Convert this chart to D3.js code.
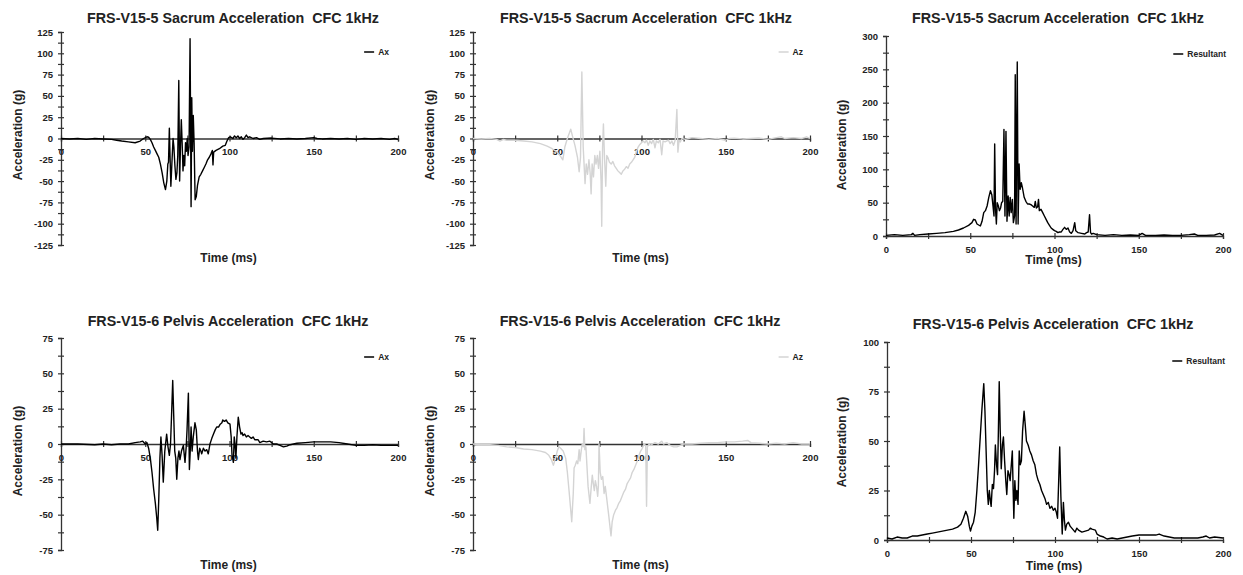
<!DOCTYPE html>
<html lang="en">
<head>
  <meta charset="UTF-8">
  <title>FRS-V15 Sacrum / Pelvis Acceleration</title>
  <script src="https://d3js.org/d3.v7.min.js"></script>
  <style>
    body { margin: 0; background: #fff; }
    text { font-family: "Liberation Sans", Arial, sans-serif; font-weight: bold; fill: #222; }
  </style>
</head>
<body>
<div id="chart"></div>
<script>
// ---- data: [time (ms), acceleration (g)] ----
const sacrumAx = [[0,0],[5,-0.5],[10,0],[15,-1],[20,0],[25,-0.5],[30,-1],[33,-2],[36,-3],[40,-4],[44,-5],[47,-3],[49,0],[51,2],[52,1.5],[53,-1],[54,-5],[55,-10],[56,-14],[57,-18],[58,-22],[59,-30],[60,-40],[61,-52],[62,-60],[62.8,-50],[63.4,-30],[63.8,-28],[64.3,12],[64.7,-20],[65.2,-56],[65.8,-30],[66.5,0],[67,-10],[67.6,-32],[68.2,-48],[68.8,-40],[69.3,-20],[69.9,68],[70.4,-50],[70.9,-10],[71.4,22],[71.9,-5],[72.4,-38],[72.9,-20],[73.4,-32],[73.9,-5],[74.4,-15],[74.9,0],[75.4,-20],[76,-10],[76.6,117],[77.2,-80],[77.6,48],[78,-15],[78.5,27],[79,-5],[79.6,-72],[80.3,-68],[81,-55],[82,-45],[83,-42],[84,-38],[85,-34],[86,-30],[87,-25],[88,-22],[89,-18],[89.8,-14],[90.2,-31],[90.6,-16],[92,-14],[94,-12],[96,-9],[97.5,-8],[98.5,-3],[99.5,1],[100.5,2],[102,0],[103,3],[104,1],[105,3],[106,0],[107,2],[108,-1],[109,1],[110,4],[111,1],[112,2],[114,0],[116,1],[118,-1],[120,0],[125,0.5],[130,-0.5],[135,0],[140,-0.5],[145,0],[150,1],[152,0],[155,-0.5],[160,0],[165,-0.5],[170,0],[175,-1],[180,0],[185,-0.5],[190,0],[195,-1],[198,0],[200,-1]];

const sacrumAz = [[0,0],[5,-0.5],[10,0],[14,-1],[16,-3],[18,-1],[20,-2],[25,-2],[30,-3],[35,-4],[40,-6],[44,-9],[47,-12],[50,-16],[52,-21],[53.3,-25],[54.5,-10],[56,0],[58,11],[59,3],[60.5,-8],[62,-22],[63,-39],[63.8,-22],[64.6,78],[65.4,-10],[66.5,-53],[67.2,-30],[68,-42],[68.8,-25],[69.5,-40],[70.1,-65],[70.7,-30],[71.5,-45],[72.3,-20],[73,-30],[73.8,-20],[74.5,-35],[75.3,-15],[76,-50],[76.4,-103],[76.9,-10],[77.4,17],[78,-20],[78.8,-56],[79.4,-20],[80,-22],[81,-28],[82,-30],[83,-27],[84,-32],[85,-35],[86,-38],[87,-40],[88,-42],[89,-38],[90,-36],[91,-33],[92,-35],[93,-30],[94,-28],[95,-25],[96,-22],[97,-15],[98,-10],[99,-7],[100,-5],[101,-3],[102,-5],[103,-2],[104,-8],[105,-3],[106,-6],[107,-1],[108,-11],[108.8,-3],[110,-5],[111,-1],[112,-19],[112.8,-3],[114,-4],[116,-2],[117,-6],[118,-3],[119,-8],[120,-2],[121,34],[121.6,-16],[122.3,-2],[123,-4],[124,0],[126,-1],[128,0],[130,1],[135,0],[140,-1],[145,0],[150,-2],[152,0],[155,0.5],[160,-0.5],[165,0],[170,0.5],[175,-1],[180,1],[183,2],[185,0],[190,1],[195,0],[198,2],[200,0]];

const sacrumRes = [[0,1],[5,2],[10,1],[15,2],[16,4],[17,1],[20,2],[25,3],[30,4],[35,5],[40,7],[43,9],[46,12],[49,16],[51,20],[52,25],[53,24],[54,18],[56,15],[57,22],[58,35],[59,38],[60,45],[61,58],[62,68],[62.8,62],[63.5,45],[64.1,30],[64.5,138],[65,40],[65.5,18],[66,50],[66.7,45],[67.3,38],[68,42],[68.6,50],[69.3,52],[70,160],[70.6,30],[71.2,157],[71.8,22],[72.5,60],[73.1,30],[73.7,58],[74.3,35],[75,55],[75.6,20],[76.3,30],[76.7,242],[77.2,18],[77.9,261],[78.4,18],[79,108],[79.6,70],[80.3,80],[81,72],[82,58],[83,52],[84,48],[85,48],[86,47],[87,45],[88,43],[88.6,52],[89.2,42],[90,44],[90.5,55],[91,38],[92,40],[93,35],[94,30],[95,25],[96,20],[97,16],[98,12],[99,10],[100,8],[101,7],[102,5],[103,6],[104,6],[105,10],[106,13],[107,10],[108,12],[109,6],[110,4],[111,8],[112,20],[112.6,8],[114,5],[116,4],[118,3],[119,5],[120,6],[120.8,32],[121.4,5],[122,3],[123,4],[125,2],[130,1],[135,2],[140,1],[145,1.5],[150,1],[152,4],[154,1],[160,1],[165,1.5],[170,1],[175,1],[180,2],[183,3],[185,1],[190,1],[195,1.5],[198,4],[200,1]];

const pelvisAx = [[0,0],[10,0],[20,-0.5],[25,0],[30,-0.5],[35,0],[40,0],[44,1],[47,1.5],[48.5,2],[50,0],[51,1],[52,-3],[53,-10],[54,-20],[55,-32],[56,-42],[56.8,-52],[57.4,-61],[58,-40],[58.7,-10],[59.3,5],[60,-8],[60.7,-27],[61.6,-5],[62.7,7],[63.5,-2],[64.3,-8],[65,0],[65.6,20],[66.3,45],[66.9,20],[67.5,-5],[68.1,-10],[68.7,-25],[69.4,-10],[70,-5],[70.6,-11],[71.5,-5],[72.6,-1],[73.6,-13],[74.3,-2],[74.8,10],[75.6,36],[76.2,-18],[76.7,-5],[77.2,12],[77.8,-5],[78.5,5],[79.5,15],[80.3,10],[81,-5],[81.5,-11],[82.3,-3],[83,-5],[83.5,-7],[84.5,-3],[85.5,-5],[86.5,-4],[87.4,-7],[88.4,0],[89.5,4],[90.5,7],[91.5,10],[92.4,12],[93.5,12],[94.5,14],[95.5,15],[96,17],[97,16],[98,17],[99,15],[100.3,14],[101,5],[101.5,-8],[102.3,-13],[102.8,5],[103.3,0],[103.8,-10],[104.4,5],[105.2,19],[106,12],[106.8,7],[107.5,8],[108,6],[109,7],[110,5],[111,6],[112,5],[113,4],[114,5],[115,3],[117,3],[118,1],[120,2],[122,1.5],[124,2],[126,0],[128,0],[130,-1],[132,-2],[134,-1.5],[136,-0.5],[140,0.5],[145,1],[150,1.5],[155,1.5],[160,1.5],[165,1],[170,0],[175,-1],[180,-1],[185,-0.5],[190,-1],[195,-1],[200,-1]];

const pelvisAz = [[0,0],[5,-0.5],[10,-0.5],[15,-1],[20,-2],[25,-2.5],[30,-3.5],[35,-4],[40,-5],[43,-6],[45,-8],[46.5,-11],[47.7,-15],[49,-10],[50,-5],[51,-2],[52,-3],[53.5,-5],[55,-10],[56,-20],[57,-33],[58.6,-55],[59.5,-35],[60,-17],[60.7,-15],[61.5,-12],[62.2,-14],[63,-4],[63.5,-12],[64.2,-5],[64.8,0],[65.5,-2],[65.9,11],[66.4,-4],[67,-2],[67.6,-15],[68.3,-30],[69.4,-42],[70.2,-30],[70.8,-22],[71.4,-28],[72,-33],[72.6,-26],[73.3,-30],[74,-37],[74.4,-30],[74.8,0],[75.5,-20],[76.2,-25],[77,-23],[77.8,-35],[78.5,-30],[79.5,-40],[80.5,-50],[81.9,-65],[82.6,-55],[83.5,-50],[84.5,-47],[85.5,-45],[86.5,-42],[87.5,-40],[88.5,-37],[89.5,-34],[90.5,-32],[91.5,-28],[92.5,-26],[93.5,-24],[94.5,-20],[95.5,-18],[96.5,-15],[97.5,-12],[98.5,-8],[99.5,-5],[100.5,-3],[101.5,0],[102.5,-1],[103,-44],[103.5,-2],[104.5,0],[105.5,-1],[106.5,0],[108,1],[110,0],[111,1],[112,2],[113,0],[115,1],[117,-1],[119,-2],[121,-2],[123,-1],[125,0],[130,0],[135,0.5],[140,1],[145,1],[150,1.5],[155,1.5],[160,2],[163,2.5],[165,1],[170,0.5],[175,0],[180,0.5],[185,0],[190,1],[195,0],[200,0]];

const pelvisRes = [[0,1],[3,0.5],[6,1.5],[9,1],[12,1],[15,2],[18,2],[21,2.5],[24,3],[27,3.5],[30,4],[33,4.5],[36,5],[39,5.5],[42,6.5],[44,8],[45.5,11],[46.9,14.5],[48,12],[49,7],[49.7,4.5],[50.5,7],[51.5,9],[52.5,14],[53.5,25],[54.5,38],[55.5,52],[56.5,66],[57.6,79],[58.3,65],[59,45],[59.7,25],[60.3,18],[60.9,25],[61.5,20],[62,17],[62.7,28],[63.4,26],[64,35],[64.5,48],[65.2,38],[65.8,33],[66.3,55],[66.8,80],[67.4,55],[68,36],[68.7,48],[69.3,52],[70,40],[70.7,30],[71.3,23],[72,35],[72.7,33],[73.3,30],[74,38],[74.6,45],[75.1,25],[75.5,11],[76.1,30],[76.7,20],[77.3,25],[78,18],[78.7,45],[79.3,38],[80,40],[80.7,55],[81.6,65],[82.3,58],[83,50],[84,48],[85,45],[86,43],[87,40],[88,38],[89,33],[90,30],[91,28],[92,25],[93,23],[94,21],[95,18],[96,19],[97,16],[98,17],[99,15],[100,16],[100.8,14],[101.5,11],[102.2,30],[102.8,47],[103.5,22],[104.3,3],[105,19],[105.6,10],[106.2,5],[107,8],[108,9],[109,7],[110,6],[111,5],[112,4],[113,6],[114,5],[116,4],[118,4.5],[120,5],[121,6],[122,5.5],[124,5],[125,3],[127,2],[129,1.5],[131,0.5],[134,1],[137,0.5],[140,1],[143,1.5],[146,2],[150,2.5],[155,2.5],[160,2.5],[162,3],[165,2],[168,1.5],[171,1],[175,1],[180,1],[185,1],[188,1.5],[190,2],[192,1],[195,1.5],[200,1]];

const titleSacrum = "FRS-V15-5 Sacrum Acceleration  CFC 1kHz";
const titlePelvis = "FRS-V15-6 Pelvis Acceleration  CFC 1kHz";
const xTicks = [0, 25, 50, 75, 100, 125, 150, 175, 200];
const xLabels = [0, 50, 100, 150, 200];

// panel boxes in px
const panels = [
  {title: titleSacrum, data: sacrumAx,  name: "Ax", color: "#000", x0: 61,  x1: 398,  yTop: 32,  yBot: 245, yMin: -125, yMax: 125, yStep: 25, minor: 12.5, titleX: 233, titleY: 23, legY: 52, legEnd: 389, ylabX: 18, ylabY: 135, xlabY: 262},
  {title: titleSacrum, data: sacrumAz,  name: "Az", color: "#d4d4d4", x0: 473, x1: 810, yTop: 32,  yBot: 245, yMin: -125, yMax: 125, yStep: 25, minor: 12.5, titleX: 646, titleY: 23, legY: 52, legEnd: 803, ylabX: 430, ylabY: 135, xlabY: 262},
  {title: titleSacrum, data: sacrumRes, name: "Resultant", color: "#000", x0: 886, x1: 1223, yTop: 36, yBot: 236, yMin: 0, yMax: 300, yStep: 50, minor: 25, titleX: 1058, titleY: 23, legY: 54, legEnd: 1226, ylabX: 842, ylabY: 145, xlabY: 264},
  {title: titlePelvis, data: pelvisAx,  name: "Ax", color: "#000", x0: 61,  x1: 398,  yTop: 338, yBot: 550, yMin: -75, yMax: 75, yStep: 25, minor: 12.5, titleX: 228, titleY: 326, legY: 357, legEnd: 389, ylabX: 18, ylabY: 451, xlabY: 569},
  {title: titlePelvis, data: pelvisAz,  name: "Az", color: "#d4d4d4", x0: 473, x1: 810, yTop: 338, yBot: 550, yMin: -75, yMax: 75, yStep: 25, minor: 12.5, titleX: 640, titleY: 326, legY: 357, legEnd: 803, ylabX: 430, ylabY: 451, xlabY: 569},
  {title: titlePelvis, data: pelvisRes, name: "Resultant", color: "#000", x0: 887, x1: 1223, yTop: 342, yBot: 540, yMin: 0, yMax: 100, yStep: 25, minor: 12.5, titleX: 1053, titleY: 329, legY: 361, legEnd: 1225, ylabX: 842, ylabY: 442, xlabY: 570}
];

const svg = d3.select("#chart").append("svg")
  .attr("width", 1243)
  .attr("height", 575);

panels.forEach(p => {
  const x = d3.scaleLinear().domain([0, 200]).range([p.x0, p.x1]);
  const y = d3.scaleLinear().domain([p.yMin, p.yMax]).range([p.yBot, p.yTop]);
  const g = svg.append("g");

  // title
  g.append("text")
    .attr("x", p.titleX).attr("y", p.titleY)
    .attr("text-anchor", "middle")
    .style("font-size", "14.3px")
    .style("white-space", "pre")
    .text(p.title);

  // y axis with crossing ticks, labels on major only
  const yVals = d3.range(p.yMin, p.yMax + 0.001, p.minor);
  const yAxis = d3.axisLeft(y)
    .tickValues(yVals)
    .tickSizeOuter(0)
    .tickSize(3)
    .tickPadding(5)
    .tickFormat(d => (Math.abs(d % p.yStep) < 1e-6 ? String(d) : ""));
  const gy = g.append("g").attr("transform", `translate(${p.x0},0)`).call(yAxis);
  gy.selectAll(".tick line").attr("x1", 3).attr("x2", -3);

  // x axis drawn at zero
  const xAxis = d3.axisBottom(x)
    .tickValues(xTicks)
    .tickSizeOuter(0)
    .tickSize(3)
    .tickPadding(7)
    .tickFormat(d => (xLabels.includes(d) ? String(d) : ""));
  const gx = g.append("g").attr("transform", `translate(0,${y(0)})`).call(xAxis);
  gx.selectAll(".tick line").attr("y1", -3).attr("y2", 3);

  [gx, gy].forEach(a => {
    a.selectAll("path.domain").attr("stroke", "#333").attr("stroke-width", 1.3);
    a.selectAll(".tick line").attr("stroke", "#333").attr("stroke-width", 1.2);
    a.selectAll("text").style("font-size", "9.5px").style("font-family", "'Liberation Sans', Arial, sans-serif").style("font-weight", "bold").attr("fill", "#222");
  });

  // series
  const line = d3.line().x(d => x(d[0])).y(d => y(d[1]));
  g.append("path")
    .datum(p.data)
    .attr("fill", "none")
    .attr("stroke", p.color)
    .attr("stroke-width", 1.4)
    .attr("stroke-linejoin", "round")
    .attr("d", line);

  // axis titles
  g.append("text")
    .attr("transform", `translate(${p.ylabX},${p.ylabY}) rotate(-90)`)
    .attr("text-anchor", "middle")
    .attr("dy", "0.35em")
    .style("font-size", "12px")
    .text("Acceleration (g)");
  g.append("text")
    .attr("x", (p.x0 + p.x1) / 2 - 1).attr("y", p.xlabY)
    .attr("text-anchor", "middle")
    .style("font-size", "12px")
    .text("Time (ms)");

  // legend
  const lt = g.append("text")
    .attr("x", p.legEnd).attr("y", p.legY)
    .attr("text-anchor", "end")
    .attr("dy", "0.35em")
    .style("font-size", "8.5px")
    .text(p.name);
  const tw = lt.node().getComputedTextLength();
  g.append("line")
    .attr("x1", p.legEnd - tw - 14).attr("x2", p.legEnd - tw - 4)
    .attr("y1", p.legY).attr("y2", p.legY)
    .attr("stroke", p.color).attr("stroke-width", 1.5);
});
</script>
</body>
</html>
